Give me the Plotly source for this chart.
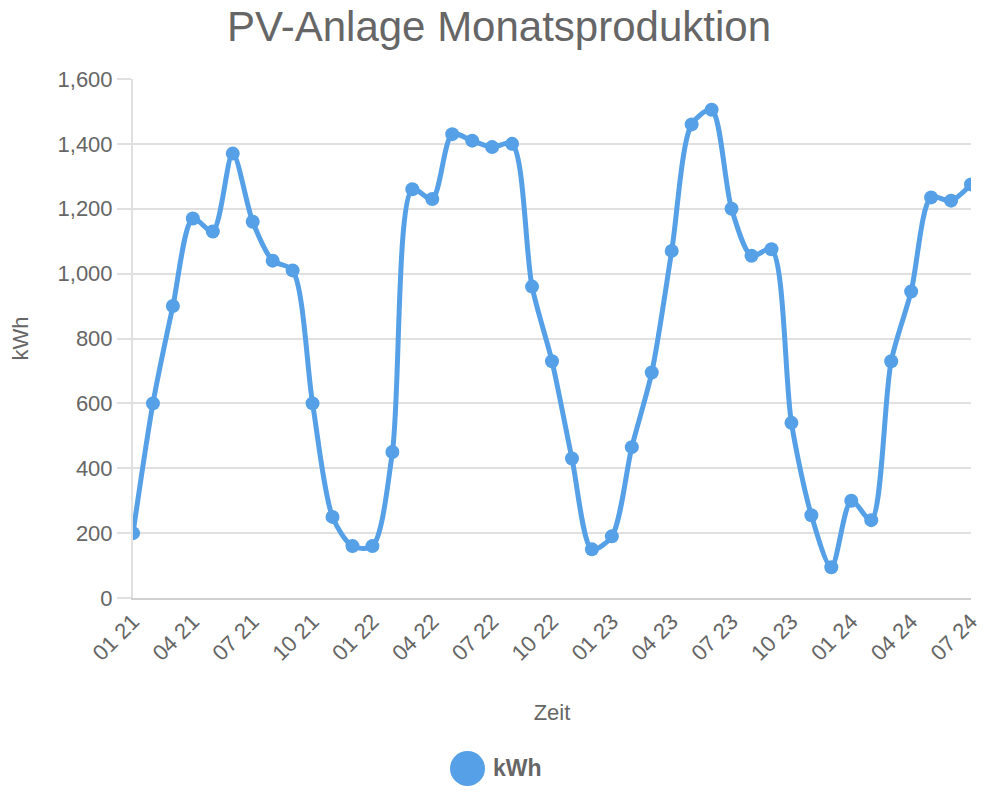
import plotly.graph_objects as go

months = [f"{m:02d} {y}" for y in [21, 22, 23, 24] for m in range(1, 13)][:43]
kwh = [200, 600, 900, 1170, 1130, 1370, 1160, 1040, 1010, 600, 250, 160,
       160, 450, 1260, 1230, 1430, 1410, 1390, 1400, 960, 730, 430, 150,
       190, 465, 695, 1070, 1460, 1505, 1200, 1055, 1075, 540, 255, 95,
       300, 240, 730, 945, 1235, 1225, 1275]
tick_labels = months[::3]

color = "#55A0E6"
font = "Liberation Sans, Arial, sans-serif"

# page body has an 8px margin; screen coords are offset by 8
OFF = 8
L, R, T, B = 133 - OFF, 971 - OFF, 79 - OFF, 598 - OFF
W, H = 998, 800
PW, PH = R - L, B - T

def px(x):
    return (x - OFF - L) / PW

def py(y):
    return (B - (y - OFF)) / PH

fig = go.Figure()
fig.add_trace(go.Scatter(
    x=list(range(len(kwh))), y=kwh, mode="lines+markers", name="kWh",
    line=dict(color=color, width=5, shape="spline", smoothing=0.8),
    marker=dict(color=color, size=14),
    showlegend=False,
))

fig.update_layout(
    width=W, height=H,
    paper_bgcolor="white", plot_bgcolor="white",
    margin=dict(l=L, r=W - R, t=T, b=H - B, autoexpand=False),
    title=dict(text="PV-Anlage Monatsproduktion", x=(499 - OFF) / W, xanchor="center",
               y=1 - (26 - OFF) / H, yanchor="middle",
               font=dict(family=font, size=42, color="#666666")),
    font=dict(family=font, color="#666666"),
    xaxis=dict(
        range=[0, len(kwh) - 1],
        tickmode="array", tickvals=list(range(0, len(kwh), 3)), ticktext=tick_labels,
        tickangle=-45, tickfont=dict(size=22, color="#666666"),
        showgrid=False, showline=True, linecolor="#d0d0d0", linewidth=2,
        ticks="", zeroline=False, automargin=False,
        title=dict(text="Zeit", font=dict(size=22, color="#666666"), standoff=40),
    ),
    yaxis=dict(
        range=[0, 1600], tickvals=[0, 200, 400, 600, 800, 1000, 1200, 1400, 1600],
        tickformat=",", tickfont=dict(size=22, color="#666666"),
        showgrid=True, gridcolor="#e0e0e0", gridwidth=1.5,
        ticks="outside", ticklen=14, tickcolor="#e0e0e0", tickwidth=1.5,
        showline=True, linecolor="#e0e0e0", linewidth=2, zeroline=False,
        automargin=False,
        title=dict(text="kWh", font=dict(size=22, color="#666666"), standoff=30),
    ),
    shapes=[dict(type="circle", xref="paper", yref="paper",
                 x0=px(450), x1=px(485), y0=py(786), y1=py(751),
                 fillcolor=color, line=dict(width=0))],
    annotations=[dict(text="<b>kWh</b>", xref="paper", yref="paper",
                      x=px(491), y=py(768),
                      xanchor="left", yanchor="middle", showarrow=False,
                      font=dict(family=font, size=23, color="#666666"))],
)

fig.write_html("out.html")
